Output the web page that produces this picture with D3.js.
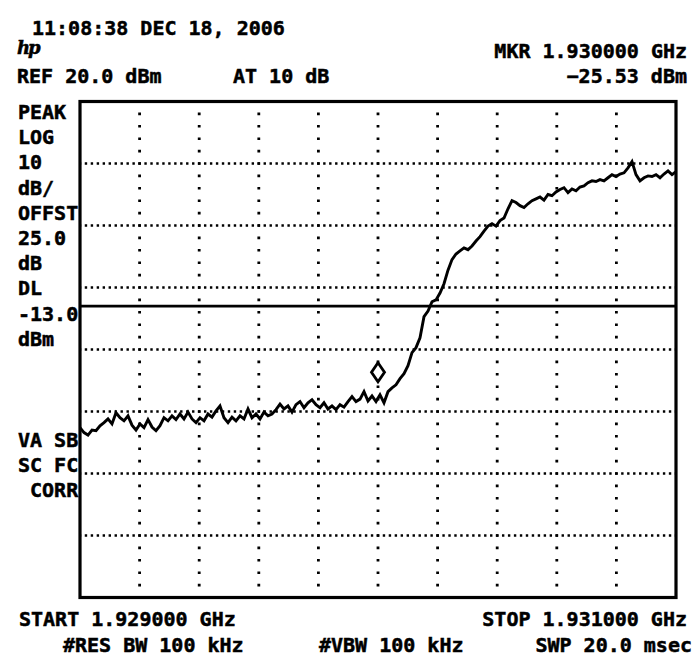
<!DOCTYPE html>
<html>
<head>
<meta charset="utf-8">
<script src="https://cdn.jsdelivr.net/npm/d3@7/dist/d3.min.js"></script>
<style>
	html, body { margin: 0; padding: 0; background: #fff; }
	#screen text { font-family: "DejaVu Sans Mono", monospace; font-weight: bold; font-size: 20px; fill: #000; stroke: #000; stroke-width: 0.5px; }
</style>
</head>
<body>
<div id="screen"></div>
<script>
// Instrument settings
var sweepMHz = [1929.0, 1931.0];
var refLevel = 20.0;        // dBm at top graticule
var dbPerDiv = 10;
var ampDivs = 8;
var freqDivs = 10;
var displayLine = -13.0;    // dBm
var marker = [1930.0, -25.53]; // MHz, dBm

// Trace amplitude (dBm), evenly spaced sweep points from start to stop
var trace = [
	-32.6, -33.4, -33.8, -33.0, -33.1, -32.3, -31.8, -31.2, -32.0, -30.2,
	-31.0, -31.5, -30.7, -32.2, -33.0, -32.0, -32.6, -31.3, -32.5, -33.1,
	-32.3, -31.0, -31.5, -30.7, -31.3, -30.4, -31.2, -30.1, -31.2, -31.8,
	-31.0, -31.5, -30.4, -30.9, -29.9, -29.1, -31.0, -31.8, -30.9, -31.5,
	-30.7, -31.2, -29.6, -31.0, -30.4, -31.2, -30.1, -30.7, -30.4, -29.7,
	-28.8, -29.6, -29.1, -30.1, -28.9, -28.4, -29.4, -28.6, -28.1, -28.9,
	-29.4, -28.6, -29.6, -29.1, -29.7, -28.9, -29.3, -28.4, -27.6, -28.4,
	-28.0, -26.8, -28.3, -27.5, -28.4, -27.3, -28.6, -26.8, -26.2, -25.7,
	-24.7, -23.9, -22.6, -20.5, -19.7, -18.1, -14.7, -13.8, -12.3, -12.0,
	-10.9, -9.4, -7.2, -5.5, -4.6, -4.1, -3.6, -3.9, -3.3, -2.5,
	-1.8, -0.9, -0.1, 0.3, -0.1, 0.8, 1.2, 2.7, 4.0, 3.7,
	3.2, 2.9, 3.5, 4.0, 4.3, 4.6, 4.1, 5.0, 4.8, 5.4,
	5.8, 6.1, 5.3, 5.9, 5.6, 6.2, 6.4, 6.9, 7.2, 7.1,
	7.4, 7.2, 7.7, 8.2, 7.9, 8.3, 8.5, 9.3, 10.3, 8.2,
	7.2, 7.7, 8.0, 7.9, 8.2, 7.7, 8.3, 8.8, 8.2, 8.7
];

// Annotation text on the screen
var dateLine = '11:08:38 DEC 18, 2006';
var attenLabel = 'AT 10 dB';
var leftLabels = ['PEAK', 'LOG', '10', 'dB/', 'OFFST', '25.0', 'dB', 'DL', '-13.0', 'dBm'];
var lowerLabels = ['VA SB', 'SC FC', ' CORR'];
var bwLabels = ['#RES BW 100 kHz', '#VBW 100 kHz', 'SWP 20.0 msec'];

function Chart() {
	var attrs = {
		svgWidth: 693,
		svgHeight: 657,
		plotLeft: 80,
		plotRight: 676,
		plotTop: 101.5,
		plotBottom: 597.5,
		container: '#screen'
	};

	var main = function () {
		var svg = d3.select(attrs.container).append('svg')
			.attr('width', attrs.svgWidth)
			.attr('height', attrs.svgHeight);

		var x = d3.scaleLinear().domain(sweepMHz).range([attrs.plotLeft, attrs.plotRight]);
		var y = d3.scaleLinear()
			.domain([refLevel - dbPerDiv * ampDivs, refLevel])
			.range([attrs.plotBottom, attrs.plotTop]);

		var span = sweepMHz[1] - sweepMHz[0];
		var freqAt = function (i) { return sweepMHz[0] + i * span / (trace.length - 1); };

		var divW = (attrs.plotRight - attrs.plotLeft) / freqDivs;
		var divH = (attrs.plotBottom - attrs.plotTop) / ampDivs;

		// Graticule: dotted lines
		var grid = svg.append('g').attr('class', 'grid');
		var vLines = d3.range(1, freqDivs).map(function (i) { return sweepMHz[0] + i * span / freqDivs; });
		var hLines = d3.range(1, ampDivs).map(function (i) { return refLevel - i * dbPerDiv; });

		grid.selectAll('.vgrid').data(vLines).enter().append('line')
			.attr('class', 'vgrid')
			.attr('x1', function (d) { return x(d); })
			.attr('x2', function (d) { return x(d); })
			.attr('y1', attrs.plotTop)
			.attr('y2', attrs.plotBottom)
			.attr('stroke', '#000')
			.attr('stroke-width', 2.8)
			.attr('stroke-dasharray', '2.6,' + (divH / 5 - 2.6))
			.attr('stroke-dashoffset', 1.3);

		grid.selectAll('.hgrid').data(hLines).enter().append('line')
			.attr('class', 'hgrid')
			.attr('x1', attrs.plotLeft)
			.attr('x2', attrs.plotRight)
			.attr('y1', function (d) { return y(d); })
			.attr('y2', function (d) { return y(d); })
			.attr('stroke', '#000')
			.attr('stroke-width', 2.6)
			.attr('stroke-dasharray', '2.4,' + (divW / 10 - 2.4))
			.attr('stroke-dashoffset', 1.2);

		// Display line
		svg.append('line')
			.attr('x1', attrs.plotLeft)
			.attr('x2', attrs.plotRight)
			.attr('y1', y(displayLine))
			.attr('y2', y(displayLine))
			.attr('stroke', '#000')
			.attr('stroke-width', 2.8);

		// Trace
		var line = d3.line()
			.x(function (d, i) { return x(freqAt(i)); })
			.y(function (d) { return y(d); });

		svg.append('path')
			.datum(trace)
			.attr('d', line)
			.attr('fill', 'none')
			.attr('stroke', '#000')
			.attr('stroke-width', 2.9)
			.attr('stroke-linejoin', 'miter');

		// Border
		svg.append('rect')
			.attr('x', attrs.plotLeft)
			.attr('y', attrs.plotTop)
			.attr('width', attrs.plotRight - attrs.plotLeft)
			.attr('height', attrs.plotBottom - attrs.plotTop)
			.attr('fill', 'none')
			.attr('stroke', '#000')
			.attr('stroke-width', 3.2);

		// Marker diamond, bottom tip on the marker point
		svg.append('path')
			.attr('transform', 'translate(' + x(marker[0]) + ',' + y(marker[1]) + ')')
			.attr('d', 'M0,-21L6.5,-11.5L0,-2L-6.5,-11.5Z')
			.attr('fill', '#fff')
			.attr('stroke', '#000')
			.attr('stroke-width', 2.8);

		// Texts
		var fmtGHz = d3.format('.6f');
		var txt = svg.append('g').attr('class', 'labels');

		function label(s, tx, ty, anchor) {
			txt.append('text')
				.attr('x', tx)
				.attr('y', ty)
				.attr('text-anchor', anchor || 'start')
				.attr('xml:space', 'preserve')
				.text(s);
		}

		label(dateLine, 32, 35);
		txt.append('text')
			.attr('x', 17)
			.attr('y', 54)
			.style('font-family', '"DejaVu Serif", serif')
			.style('font-style', 'italic')
			.style('font-size', '18px')
			.style('letter-spacing', '-2px')
			.text('hp');
		label('MKR ' + fmtGHz(marker[0] / 1000) + ' GHz', 687, 58, 'end');
		label('REF ' + d3.format('.1f')(refLevel) + ' dBm', 17, 83);
		label(attenLabel, 233, 83);
		label(d3.format('.2f')(marker[1]) + ' dBm', 687, 83, 'end');

		leftLabels.forEach(function (s, i) { label(s, 18, 119 + i * 25.2); });
		lowerLabels.forEach(function (s, i) { label(s, 18, 119 + (i + 13) * 25.2); });

		label('START ' + fmtGHz(sweepMHz[0] / 1000) + ' GHz', 19, 626);
		label('STOP ' + fmtGHz(sweepMHz[1] / 1000) + ' GHz', 687, 626, 'end');
		label(bwLabels[0], 63, 652);
		label(bwLabels[1], 319, 652);
		label(bwLabels[2], 692, 652, 'end');
	};

	main.render = function () {
		main();
		return main;
	};

	return main;
}

Chart().render();
</script>
</body>
</html>
